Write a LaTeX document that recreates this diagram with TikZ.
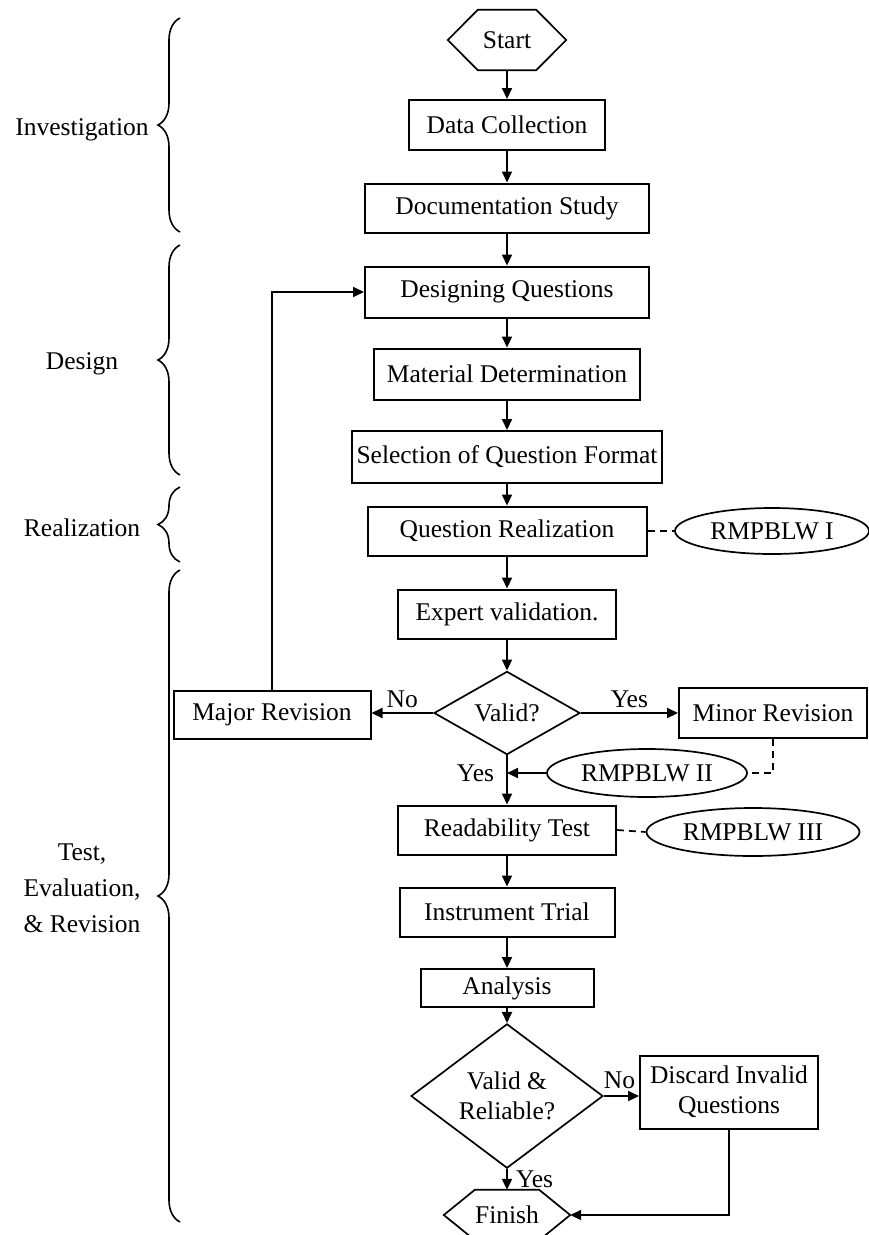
\documentclass[tikz,border=0pt]{standalone}
\usepackage{fontspec}
\setmainfont{Liberation Serif}
\usepackage{tikz}
\usetikzlibrary{calc,arrows.meta,positioning,shapes.geometric,decorations.pathreplacing}

\newcommand{\hexframe}[2]{%
  \draw[line width=1.7pt] (#1.west) -- ([xshift=#2]#1.north west) -- ([xshift=-#2]#1.north east)
    -- (#1.east) -- ([xshift=-#2]#1.south east) -- ([xshift=#2]#1.south west) -- cycle;}

\begin{document}
\begin{tikzpicture}[x=1pt,y=-1pt,
  font=\fontsize{25.5}{30}\selectfont,
  box/.style={draw, line width=2pt, inner sep=0pt, minimum height=49pt},
  decide/.style={draw, diamond, line width=1.7pt, inner sep=0pt, align=center},
  note/.style={draw, ellipse, line width=1.7pt, inner sep=0pt, minimum height=48pt},
  term/.style={inner sep=0pt},
  arr/.style={line width=2pt, -{Triangle[length=11pt,width=10pt]}},
  link/.style={line width=1.7pt, dash pattern=on 7pt off 5pt},
  phase/.style={decorate, decoration={brace, amplitude=22pt}, line width=1.6pt},
  lbl/.style={inner sep=2pt}]
\useasboundingbox (0,0) rectangle (869,1235);

\node[term, minimum width=118pt, minimum height=60pt] (start) at (507,40) {Start};
\hexframe{start}{30pt}
\node[box, minimum width=196pt, minimum height=50pt] (datacol) at (507,125) {Data Collection};
\node[box, minimum width=284pt] (docstudy) at (507,208) {Documentation Study};
\node[box, minimum width=284pt, minimum height=51pt] (designq) at (507,292) {Designing Questions};
\node[box, minimum width=266pt, minimum height=51pt] (material) at (507,374) {Material Determination};
\node[box, minimum width=310pt, minimum height=52pt] (format) at (507,457) {Selection of Question Format};
\node[box, minimum width=279pt] (realize) at (507,531) {Question Realization};
\node[note, minimum width=194pt, minimum height=46pt] (rmone) at (772,531) {RMPBLW I};
\node[box, minimum width=218pt] (expert) at (507,614) {Expert validation.};
\node[decide, minimum width=146pt, minimum height=74pt] (valid) at (507,713) {Valid?};
\node[box, minimum width=197pt, minimum height=48pt] (major) at (272,715) {Major Revision};
\node[box, minimum width=188pt, minimum height=50pt] (minor) at (773,713) {Minor Revision};
\node[note, minimum width=200pt] (rmtwo) at (647,773) {RMPBLW II};
\node[box, minimum width=218pt] (readtest) at (507,830) {Readability Test};
\node[note, minimum width=213pt] (rmthree) at (753,832) {RMPBLW III};
\node[box, minimum width=215pt] (trial) at (507,912) {Instrument Trial};
\node[box, minimum width=173pt, minimum height=38pt] (analysis) at (507,988) {Analysis};
\node[decide, minimum width=192pt, minimum height=122pt] (reliable) at (507,1096) {Valid \&\\Reliable?};
\node[box, minimum width=178pt, minimum height=73pt, align=center] (discard) at (729,1092) {Discard Invalid\\Questions};
\node[term, minimum width=126pt, minimum height=50pt] (finish) at (507,1215) {Finish};
\hexframe{finish}{31pt}

\draw[arr] (start) -- (datacol);
\draw[arr] (datacol) -- (docstudy);
\draw[arr] (docstudy) -- (designq);
\draw[arr] (designq) -- (material);
\draw[arr] (material) -- (format);
\draw[arr] (format) -- (realize);
\draw[arr] (realize) -- (expert);
\draw[arr] (expert) -- (valid);
\draw[arr] (valid.west) -- node[lbl, above, yshift=2pt] (nomajor) {No} (major.east |- valid.west);
\draw[arr] (valid.east) -- node[lbl, above, yshift=2pt] (yesminor) {Yes} (minor.west |- valid.east);
\draw[arr] (major.north) -- (major.north |- designq.west) -- (designq.west);
\draw[arr] (valid.south) -- (readtest.north);
\draw[arr] (rmtwo.west) -- (valid.south |- rmtwo.west) node[lbl, left, xshift=-10pt] (yesread) {Yes};
\draw[arr] (readtest) -- (trial);
\draw[arr] (trial) -- (analysis);
\draw[arr] (analysis) -- (reliable);
\draw[arr] (reliable.east) -- node[lbl, above, xshift=-2pt, yshift=4pt] (nodiscard) {No} (discard.west |- reliable.east);
\draw[arr] (reliable.south) -- node[lbl, right, xshift=6pt] (yesfinish) {Yes} (finish.north);
\draw[arr] (discard.south) -- (discard.south |- finish.east) -- (finish.east);

\draw[link] (realize.east) -- (rmone.west);
\draw[link] (minor.south) -- (minor.south |- rmtwo.east) -- (rmtwo.east);
\draw[link] (readtest.east) -- (rmthree.west);

\draw[phase] (180,232) -- (180,18);
\draw[phase] (180,475) -- (180,245);
\draw[phase] (180,562) -- (180,487);
\draw[phase] (180,1222) -- (180,570);
\node (investig) at (82,130) {Investigation};
\node (designlbl) at (82,364) {Design};
\node (realizlbl) at (82,528) {Realization};
\node[align=center, font=\fontsize{25.5}{36}\selectfont] (testlbl) at (82,888) {Test,\\Evaluation,\\\& Revision};
\end{tikzpicture}
\end{document}
